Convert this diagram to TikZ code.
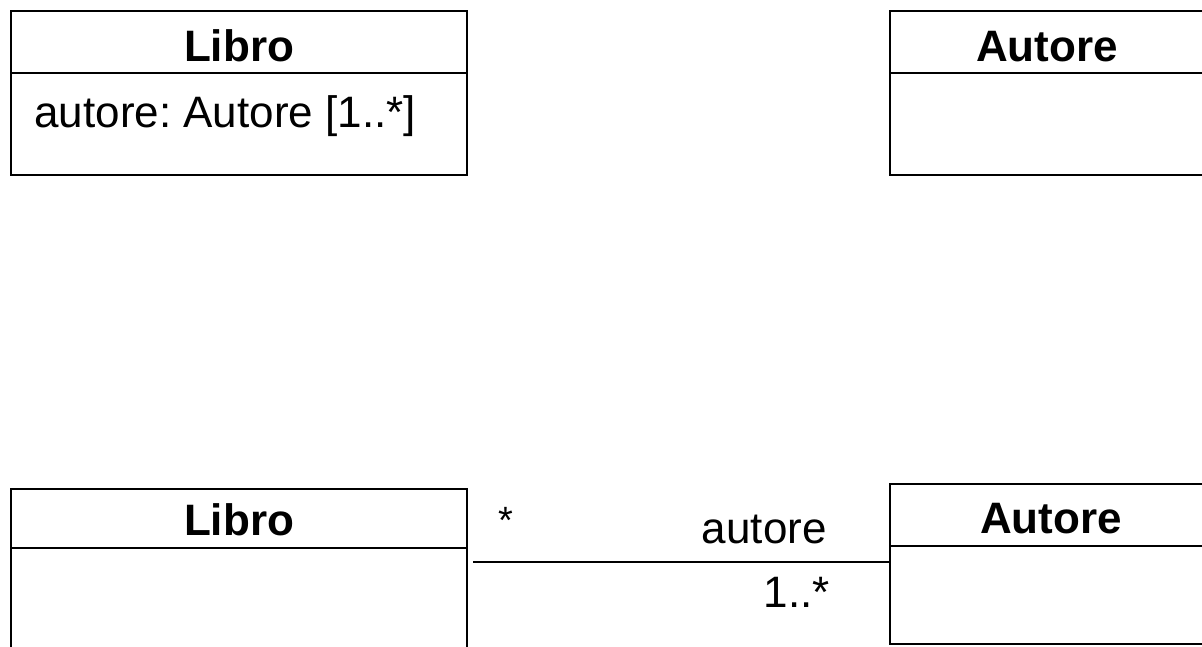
\documentclass[tikz,border=0pt]{standalone}
\usepackage{fontspec}
\setmainfont{Liberation Sans}
\frenchspacing
\begin{document}
\begin{tikzpicture}[x=1pt,y=-1pt, line width=2.8pt,
  cls/.style={draw, rectangle, inner sep=0pt, outer sep=0pt, anchor=north west},
  ctitle/.style={font=\fontsize{44}{50}\selectfont\bfseries, anchor=base, inner sep=0pt},
  txt/.style={font=\fontsize{44}{50}\selectfont, inner sep=0pt}]
\useasboundingbox (0,0) rectangle (1202,647);
\clip (0,0) rectangle (1202,647);
% top: attribute form
\node[cls, minimum width=456pt, minimum height=164pt] (libro1) at (11,11) {};
\draw ([yshift=-62pt]libro1.north west) -- ([yshift=-62pt]libro1.north east);
\node[ctitle] (libro1t) at (239,62) {Libro};
\node[txt, anchor=base west] (libro1a) at (33,128) {autore: Autore [1..*]};
\node[cls, minimum width=314pt, minimum height=164pt] (autore1) at (890,11) {};
\draw ([yshift=-62pt]autore1.north west) -- ([yshift=-62pt]autore1.north east);
\node[ctitle] (autore1t) at (1047,62) {Autore};
% bottom: association form
\node[cls, minimum width=456pt, minimum height=180pt] (libro2) at (11,489) {};
\draw ([yshift=-59pt]libro2.north west) -- ([yshift=-59pt]libro2.north east);
\node[ctitle] (libro2t) at (239,535) {Libro};
\node[cls, minimum width=322pt, minimum height=160pt] (autore2) at (890,484) {};
\draw ([yshift=-62pt]autore2.north west) -- ([yshift=-62pt]autore2.north east);
\node[ctitle] (autore2t) at (1051,533) {Autore};
\coordinate (e1) at (473,562);
\draw (e1) -- (e1 -| autore2.west);
\node[txt, anchor=base west, font=\fontsize{38}{44}\selectfont] (m1) at (497,533) {*};
\node[txt, anchor=base east] (role) at (828,543) {autore};
\node[txt, anchor=base east] (m2) at (831,607) {1..*};
\end{tikzpicture}
\end{document}
